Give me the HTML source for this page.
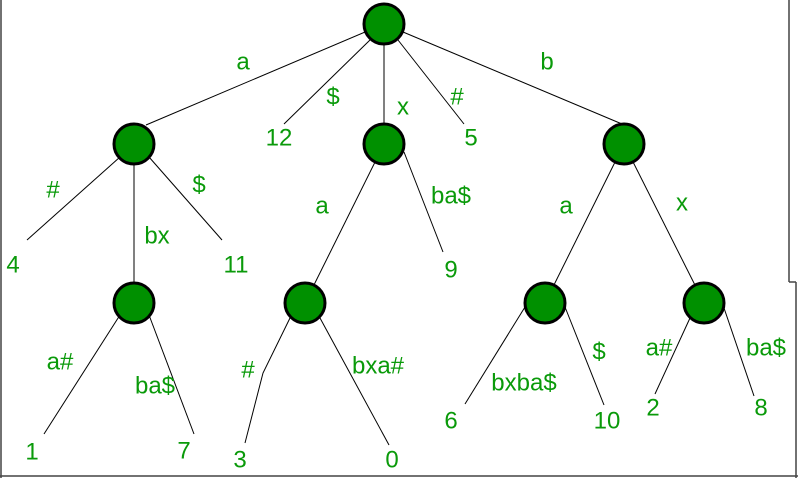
<!DOCTYPE html>
<html><head><style>
html,body{margin:0;padding:0;background:#fff;}
svg{display:block}
text{font-family:"Liberation Sans",sans-serif;font-size:24px;fill:#0a9a0a;text-anchor:middle;dominant-baseline:central}
</style></head><body>
<svg width="798" height="478" viewBox="0 0 798 478">
<g stroke="#444" stroke-width="1.5" fill="none">
<line x1="1" y1="0" x2="1" y2="478"/>
<line x1="0" y1="476" x2="798" y2="476"/>
<line x1="789" y1="0" x2="789" y2="282"/>
<line x1="789" y1="282" x2="796" y2="282"/>
<line x1="796" y1="282" x2="796" y2="478"/>
</g>
<g stroke="#000" stroke-width="1" fill="none">
<line x1="384" y1="24" x2="146" y2="125"/>
<line x1="370" y1="40" x2="284" y2="124"/>
<line x1="384" y1="24" x2="384" y2="144"/>
<line x1="398" y1="40" x2="464" y2="124"/>
<line x1="384" y1="24" x2="622" y2="124"/>
<line x1="120" y1="157" x2="27" y2="240"/>
<line x1="134" y1="144" x2="134" y2="303"/>
<line x1="149" y1="157" x2="222" y2="240"/>
<line x1="120" y1="315" x2="44" y2="434"/>
<line x1="149" y1="315" x2="194" y2="434"/>
<line x1="384" y1="144" x2="305" y2="303"/>
<line x1="404" y1="152" x2="443" y2="252"/>
<polyline points="290,318 263,373 245,443"/>
<line x1="320" y1="318" x2="389" y2="445"/>
<line x1="624" y1="144" x2="545" y2="303"/>
<line x1="624" y1="144" x2="704" y2="303"/>
<line x1="525" y1="307" x2="465" y2="404"/>
<line x1="565" y1="307" x2="604" y2="405"/>
<line x1="690" y1="318" x2="655" y2="394"/>
<line x1="724" y1="308" x2="754" y2="396"/>
</g>
<g fill="#009000" stroke="#000" stroke-width="3">
<circle cx="384" cy="24" r="20"/>
<circle cx="134" cy="144" r="20"/>
<circle cx="384" cy="144" r="20"/>
<circle cx="624" cy="144" r="20"/>
<circle cx="134" cy="303" r="20"/>
<circle cx="305" cy="303" r="20"/>
<circle cx="545" cy="303" r="20"/>
<circle cx="704" cy="303" r="20"/>
</g>
<text x="243" y="62">a</text>
<text x="333" y="97">$</text>
<text x="403" y="107">x</text>
<text x="457" y="97">#</text>
<text x="547" y="62">b</text>
<text x="279" y="138">12</text>
<text x="471" y="138">5</text>
<text x="53" y="190">#</text>
<text x="199" y="185">$</text>
<text x="157" y="236">bx</text>
<text x="13" y="265">4</text>
<text x="236" y="265">11</text>
<text x="322" y="206">a</text>
<text x="451" y="196">ba$</text>
<text x="451" y="270">9</text>
<text x="566" y="206">a</text>
<text x="682" y="203">x</text>
<text x="60" y="362">a#</text>
<text x="155" y="386">ba$</text>
<text x="32" y="452">1</text>
<text x="184" y="451">7</text>
<text x="248" y="370">#</text>
<text x="378" y="366">bxa#</text>
<text x="240" y="460">3</text>
<text x="392" y="460">0</text>
<text x="524" y="383">bxba$</text>
<text x="599" y="352">$</text>
<text x="451" y="421">6</text>
<text x="607" y="421">10</text>
<text x="659" y="348">a#</text>
<text x="766" y="348">ba$</text>
<text x="653" y="408">2</text>
<text x="761" y="408">8</text>
</svg>
</body></html>
